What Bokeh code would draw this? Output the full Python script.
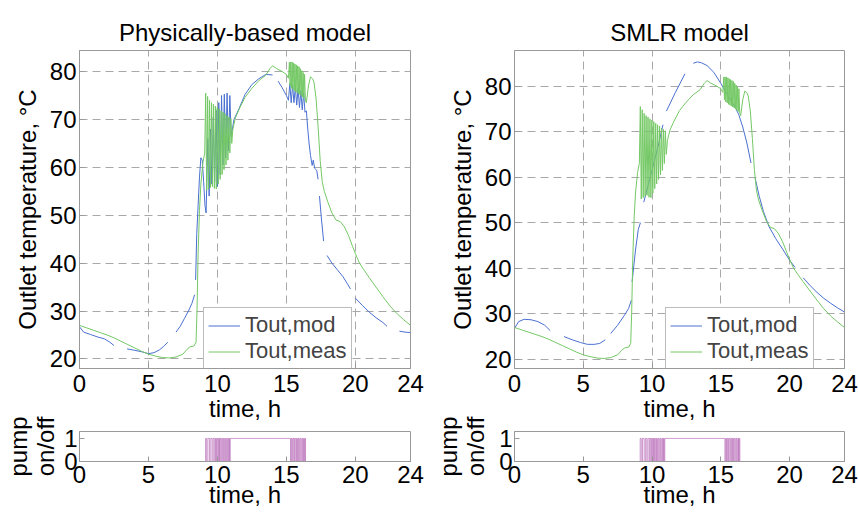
from bokeh.plotting import figure
from bokeh.models import Range1d, FixedTicker
from bokeh.layouts import row, column
from bokeh.embed import file_html
from bokeh.resources import INLINE

nan = float("nan")

# ---------------- data ----------------
time_ticks = [0, 5, 10, 15, 20, 24]
temp_ticks = [20, 30, 40, 50, 60, 70, 80]
pump_ticks = [0, 1]

# measured outlet temperature (same record in both panels)
meas_t = [0.0, 0.5, 1.0, 1.5, 2.0, 2.5, 3.0, 3.5, 4.0, 4.5, 5.0, 5.5, 6.0, 6.5, 7.0, 7.5, 7.8, 8.0,
          8.3, 8.45, 8.52, 8.6, 8.7, 8.8, 8.95, 9.08,
          9.15, 9.22, 9.29, 9.36, 9.43, 9.50, 9.57, 9.64, 9.71, 9.78, 9.85, 9.92, 9.99, 10.06,
          10.13, 10.20, 10.27, 10.34, 10.41, 10.48, 10.55, 10.62, 10.69, 10.76, 10.83, 10.90,
          10.97, 11.04, 11.12,
          11.3, 11.6, 12.0, 12.5, 13.0, 13.5, 13.8, 14.0, 14.3, 14.7, 15.0, 15.15,
          15.22, 15.27, 15.32, 15.37, 15.42, 15.47, 15.52, 15.57, 15.62, 15.67, 15.72, 15.77,
          15.82, 15.87, 15.92, 15.97, 16.02, 16.07, 16.12, 16.17, 16.22, 16.27, 16.32, 16.38,
          16.45, 16.6, 16.75, 16.9, 17.0, 17.15, 17.3, 17.45, 17.6, 17.75, 18.0, 18.3, 18.6, 18.9,
          19.2, 19.5, 19.8, 20.0, 20.3, 20.6, 21.0, 21.5, 22.0, 22.5, 23.0, 23.5, 24.0]
meas_T = [27.0, 26.5, 26.0, 25.5, 25.0, 24.4, 23.7, 23.0, 22.3, 21.6, 21.0, 20.6, 20.3, 20.2, 20.4,
          21.0, 22.0, 22.5, 22.7, 23.5, 30.0, 42.0, 51.0, 56.5, 61.0, 63.0,
          75.5, 55.2, 74.8, 55.5, 74.0, 55.8, 73.5, 56.0, 73.2, 55.6, 72.8, 55.5, 72.5, 56.5,
          72.2, 57.5, 71.8, 58.5, 71.5, 59.5, 71.2, 60.5, 70.8, 61.5, 70.5, 63.0,
          70.2, 65.0, 68.0,
          70.3, 72.3, 74.6, 76.5, 78.1, 79.2, 80.6, 81.2, 80.6, 80.0, 79.4, 78.6,
          82.0, 77.0, 82.0, 76.5, 82.0, 76.3, 81.8, 76.0, 81.6, 75.8, 81.4, 75.6,
          81.2, 75.4, 81.0, 75.2, 80.6, 75.0, 80.2, 74.7, 79.8, 74.4, 79.4, 74.0,
          73.5, 77.0, 78.9, 78.5, 77.8, 74.5, 68.5, 61.5, 57.0, 55.0, 52.8, 50.5, 49.0, 48.7, 47.6,
          45.8, 43.5, 42.0, 40.0, 38.7, 37.0, 35.0, 33.0, 31.1, 29.5, 28.2, 27.0]

# physically-based model (gaps = missing samples)
phys_t = [0.0, 0.3, 0.8, 1.3, 1.8, 2.2, 2.5, nan, 3.45, 4.0, 4.5, 5.0, 5.4, 5.8, 6.1, 6.4, nan,
          7.0, 7.3, 7.6, 7.9, 8.15, 8.35, nan, 8.42, 8.5, 8.6, 8.7, 8.8, 8.9, 9.0, 9.1, 9.18, 9.3,
          9.4, 9.5, 9.6, 9.7, 9.8, 9.9, 10.0, 10.1, 10.2, 10.3, 10.4, 10.5, 10.6, 10.7, 10.8, 10.9,
          11.0, 11.2, 11.5, 12.0, 12.5, 13.0, 13.5, 14.0, nan, 14.4, 14.7, 15.0, 15.15, 15.25,
          15.35, 15.45, 15.55, 15.65, 15.75, 15.85, 15.95, 16.05, 16.15, 16.25, 16.35, 16.45,
          16.55, 16.65, 16.75, 16.87, 16.95, 17.05, 17.2, 17.3, nan, 17.4, 17.55, 17.7, nan,
          17.95, 18.3, 18.7, 19.1, 19.4, 19.65, nan, 20.0, 20.5, 21.0, 21.5, 22.0, 22.3, nan,
          23.2, 23.6, 24.0]
phys_T = [26.7, 25.6, 25.1, 24.6, 24.2, 23.5, 22.8, nan, 22.1, 21.8, 21.5, 21.1, 21.3, 21.9, 22.6,
          23.5, nan, 25.6, 26.8, 28.4, 30.0, 31.6, 33.4, nan, 36.5, 46.0, 52.0, 58.0, 62.0, 61.5,
          57.0, 52.0, 50.5, 66.0, 54.0, 68.0, 56.5, 70.5, 57.0, 72.0, 56.0, 73.5, 58.5, 75.0, 60.5,
          75.3, 62.0, 75.5, 63.5, 75.0, 66.5, 70.0, 71.8, 75.2, 77.3, 78.5, 79.4, 79.3, nan, 78.0,
          76.6, 75.0, 74.0, 77.5, 73.5, 77.2, 73.5, 76.8, 73.0, 76.5, 72.5, 76.0, 72.0, 75.5, 71.5,
          71.8, 68.0, 64.9, 62.5, 60.4, 61.5, 59.8, 59.4, 57.5, nan, 54.0, 49.0, 44.6, nan, 41.6,
          40.0, 38.6, 37.2, 35.8, 34.6, nan, 32.7, 31.2, 29.8, 28.6, 27.6, 26.8, nan, 25.8, 25.6,
          25.5]

# SMLR model
smlr_t = [0.0, 0.3, 0.7, 1.2, 1.7, 2.2, 2.6, nan, 3.6, 4.2, 4.8, 5.3, 5.8, 6.2, 6.6, nan, 7.0,
          7.5, 8.0, 8.3, 8.5, nan, 8.55, 8.8, 9.0, 9.16, nan, 9.4, 10.0, 10.5, 10.8, nan, 11.05,
          11.7, 12.4, nan, 13.0, 13.3, 13.6, 14.0, 14.5, 15.0, 15.5, 16.0, 16.3, 16.6, 16.9, 17.2,
          nan, 17.5, 17.8, 18.1, 18.5, 19.0, 19.5, 20.0, 20.4, nan, 21.0, 21.5, 22.0, 22.5, 23.0,
          23.5, 24.0]
smlr_T = [26.8, 28.3, 28.8, 28.7, 28.3, 27.5, 26.3, nan, 25.0, 24.3, 23.7, 23.3, 23.3, 23.5, 24.3,
          nan, 25.7, 27.5, 29.7, 31.2, 33.0, nan, 37.0, 44.0, 48.5, 50.0, nan, 54.5, 61.5, 67.5,
          71.5, nan, 74.5, 78.6, 82.7, nan, 85.0, 85.3, 85.1, 84.5, 83.0, 80.6, 78.0, 75.6, 73.8,
          71.0, 67.5, 63.1, nan, 59.8, 55.8, 52.5, 49.2, 46.5, 44.2, 41.8, 40.2, nan, 37.9, 36.2,
          34.7, 33.4, 32.3, 31.3, 30.4]

# pump "on" intervals (h)
pump_on_start = [9.14, 9.31, 9.52, 9.70, 9.86, 9.98, 10.10, 10.20, 10.33, 10.45, 10.59, 10.72,
                 10.83, 10.93, 15.36, 15.48, 15.60, 15.74, 15.86, 15.98, 16.12, 16.25, 16.34]
pump_on_end = [9.22, 9.43, 9.62, 9.80, 9.93, 10.05, 10.15, 10.27, 10.39, 10.52, 10.65, 10.78,
               10.88, 15.30, 15.42, 15.55, 15.68, 15.80, 15.92, 16.05, 16.18, 16.29, 16.39]

titles = ["Physically-based model", "SMLR model"]
legend_labels = ["Tout,mod", "Tout,meas"]

# step signal built from the intervals
pump_t = [0.0]
pump_v = [0.0]
for s, e in zip(pump_on_start, pump_on_end):
    pump_t += [s, s, e, e]
    pump_v += [0, 1, 1, 0]
pump_t.append(24.0)
pump_v.append(0.0)

# ---------------- style ----------------
FONT = "Liberation Sans"
FRAME = "#999999"
GRID = "#a8a8a8"
BLUE = "#4a70d0"
GREEN = "#74c865"
PURPLE = "#a848a8"


def style_axes(p, xt, yt):
    p.outline_line_color = FRAME
    p.outline_line_width = 1
    p.xaxis.ticker = FixedTicker(ticks=xt)
    p.yaxis.ticker = FixedTicker(ticks=yt)
    for ax in list(p.xaxis) + list(p.yaxis):
        ax.axis_line_color = FRAME
        ax.major_tick_line_color = FRAME
        ax.major_tick_in = 5
        ax.major_tick_out = 0
        ax.minor_tick_line_color = None
        ax.major_label_text_font = FONT
        ax.major_label_text_font_size = "24px"
        ax.major_label_text_color = "black"
        ax.axis_label_text_font = FONT
        ax.axis_label_text_font_size = "24px"
        ax.axis_label_text_font_style = "normal"
        ax.axis_label_text_color = "black"
    p.xaxis.major_label_standoff = 6
    p.yaxis.major_label_standoff = 3


def top_plot(title, model_t, model_T, ymax, width, bl, br, bb):
    p = figure(width=width, height=427, x_range=Range1d(0, 24), y_range=Range1d(18, ymax),
               output_backend="svg", toolbar_location=None, title=title,
               min_border_left=bl, min_border_right=br, min_border_top=50, min_border_bottom=bb)
    p.title.align = "center"
    p.title.text_font = FONT
    p.title.text_font_size = "24px"
    p.title.text_font_style = "normal"
    p.title.text_color = "black"
    p.title.text_line_height = 0.8
    p.title.standoff = 10
    style_axes(p, time_ticks, temp_ticks)
    p.xaxis.axis_label = "time, h"
    p.yaxis.axis_label = "Outlet temperature, \u00b0C"
    p.xaxis.axis_label_standoff = 0
    p.yaxis.axis_label_standoff = 6
    for g in (p.xgrid[0], p.ygrid[0]):
        g.grid_line_color = GRID
        g.grid_line_dash = "8 5"
        g.grid_line_width = 1
    p.xgrid.ticker = FixedTicker(ticks=time_ticks)
    p.ygrid.ticker = FixedTicker(ticks=temp_ticks)
    p.line(model_t, model_T, line_color=BLUE, line_width=1, legend_label=legend_labels[0])
    p.line(meas_t, meas_T, line_color=GREEN, line_width=1, legend_label=legend_labels[1])
    lg = p.legend[0]
    lg.label_text_font = FONT
    lg.label_text_font_size = "22px"
    lg.glyph_width = 32
    lg.glyph_height = 23
    lg.label_height = 23
    lg.label_standoff = 5
    lg.padding = 4
    lg.spacing = 0
    lg.margin = 0
    lg.border_line_color = "#7a7a7a"
    lg.border_line_width = 1
    lg.background_fill_alpha = 1.0
    return p


def pump_plot(width, bl, br, bt, bb, label_standoff):
    p = figure(width=width, height=108, x_range=Range1d(0, 24), y_range=Range1d(0, 1.3),
               output_backend="svg", toolbar_location=None,
               min_border_left=bl, min_border_right=br, min_border_top=bt, min_border_bottom=bb,
               margin=(-22, 0, 0, 0))
    p.border_fill_color = None
    p.background_fill_color = None
    style_axes(p, time_ticks, pump_ticks)
    p.xgrid.visible = False
    p.ygrid.visible = False
    p.xaxis.axis_label = "time, h"
    p.yaxis.axis_label = "pump\non/off"
    p.yaxis.axis_label_text_line_height = 1.0
    p.xaxis.major_label_standoff = 4
    p.xaxis.axis_label_standoff = -5
    p.yaxis.axis_label_standoff = label_standoff
    p.yaxis.major_label_standoff = 2
    p.line(pump_t, pump_v, line_color=PURPLE, line_alpha=0.55, line_width=1)
    return p


p1 = top_plot(titles[0], phys_t, phys_T, 84.4, 430, 79, 20, 59)
p1.legend[0].location = (124, -1)
p2 = top_plot(titles[1], smlr_t, smlr_T, 87.8, 428, 84, 14, 56)
p2.legend[0].location = (151, -1)

b1 = pump_plot(430, 79, 20, 24, 52, 2)
b2 = pump_plot(428, 84, 14, 26, 52, 7)

layout = column(row(p1, p2), row(b1, b2))

open("out.html", "w").write(file_html(layout, INLINE))
